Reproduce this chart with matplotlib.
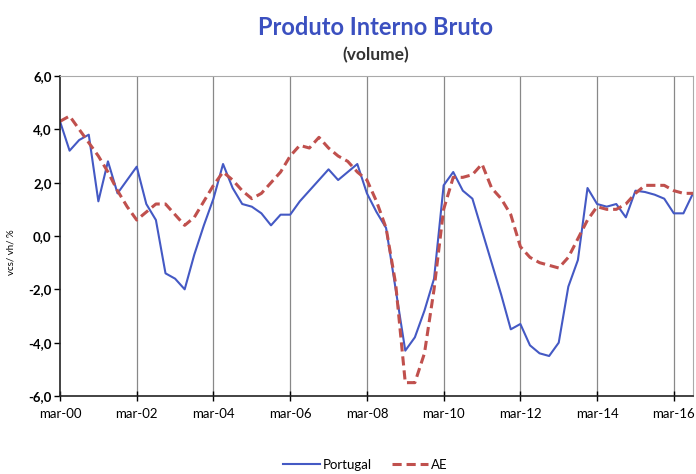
import matplotlib
matplotlib.use("Agg")
import matplotlib.pyplot as plt
import numpy as np

# quarterly yoy GDP growth (%), mar-00 .. sep-16
portugal = [4.3, 3.2, 3.6, 3.8, 1.3, 2.8, 1.6, 2.1, 2.6, 1.2,
            0.6, -1.4, -1.6, -2.0, -0.7, 0.4, 1.4, 2.7, 1.8, 1.2,
            1.1, 0.85, 0.4, 0.8, 0.8, 1.3, 1.7, 2.1, 2.5, 2.1,
            2.4, 2.7, 1.6, 0.9, 0.3, -2.0, -4.3, -3.8, -2.8, -1.6,
            1.9, 2.4, 1.7, 1.4, 0.2, -1.0, -2.2, -3.5, -3.3, -4.1,
            -4.4, -4.5, -4.0, -1.9, -0.9, 1.8, 1.2, 1.1, 1.2, 0.7,
            1.7, 1.65, 1.55, 1.4, 0.85, 0.85, 1.6]
ae = [4.3, 4.5, 4.0, 3.5, 3.0, 2.4, 1.7, 1.1, 0.6, 0.9,
      1.2, 1.2, 0.8, 0.4, 0.7, 1.3, 1.9, 2.4, 2.1, 1.7,
      1.4, 1.6, 2.0, 2.4, 3.0, 3.4, 3.3, 3.7, 3.3, 3.0,
      2.8, 2.4, 2.1, 1.3, 0.3, -1.8, -5.5, -5.5, -4.4, -2.0,
      1.0, 2.2, 2.2, 2.3, 2.7, 1.8, 1.4, 0.8, -0.4, -0.8,
      -1.0, -1.1, -1.2, -0.8, -0.1, 0.6, 1.1, 1.0, 1.0, 1.2,
      1.6, 1.9, 1.9, 1.9, 1.7, 1.6, 1.6]
tick_labels = ['mar-00', 'mar-02', 'mar-04', 'mar-06', 'mar-08',
               'mar-10', 'mar-12', 'mar-14', 'mar-16']
y_ticks = [-6, -4, -2, 0, 2, 4, 6]

font = ['Lato', 'DejaVu Sans']
blue = '#4459c4'
red = '#c0504d'

fig = plt.figure(figsize=(6.96, 4.74), dpi=100)
ax = fig.add_axes([0.0862, 0.1646, 0.9095, 0.675])

q = np.arange(len(portugal))
ax.plot(q, portugal, color=blue, lw=1.5, label='Portugal')
ax.plot(q, ae, color=red, lw=2.2, ls=(0, (3, 1.6)), label='AE')

xt = np.arange(0, len(portugal), 8)
ax.set_xlim(0, len(portugal) - 1)
ax.set_ylim(-6, 6)
ax.set_xticks(xt)
ax.set_xticklabels(tick_labels, family=font, fontsize=9.5)
ax.set_yticks(y_ticks)
ax.set_yticklabels([('%.1f' % v).replace('.', ',') for v in y_ticks],
                   family=font, fontsize=9.5, fontweight='bold')
ax.tick_params(axis='x', direction='inout', length=7, width=1, pad=5)
ax.tick_params(axis='y', direction='out', length=4, width=1, pad=2)

for x in xt[1:]:
    ax.axvline(x, color='#888888', lw=0.9, zorder=0)

ax.spines['left'].set_color('#222222')
ax.spines['bottom'].set_color('#222222')
ax.spines['left'].set_linewidth(1.2)
ax.spines['bottom'].set_linewidth(1.2)
ax.spines['top'].set_color('#aaaaaa')
ax.spines['right'].set_color('#aaaaaa')

ax.set_ylabel('vcs/ vh/ %', family=font, fontsize=7, labelpad=1)
ax.yaxis.set_label_coords(-0.07, 0.45)

fig.text(0.54, 0.943, 'Produto Interno Bruto', ha='center', va='center',
         family=font, fontsize=17, fontweight='bold', color='#3b50c0')
fig.text(0.54, 0.884, '(volume)', ha='center', va='center',
         family=font, fontsize=12.5, fontweight='bold', color='#333333')

fig.legend(loc='center', bbox_to_anchor=(0.525, 0.019), ncol=2, frameon=False,
           prop={'family': font, 'size': 9.5}, handlelength=2.8,
           columnspacing=1.5, handletextpad=0.2)

fig.savefig('out.png', dpi=100)
